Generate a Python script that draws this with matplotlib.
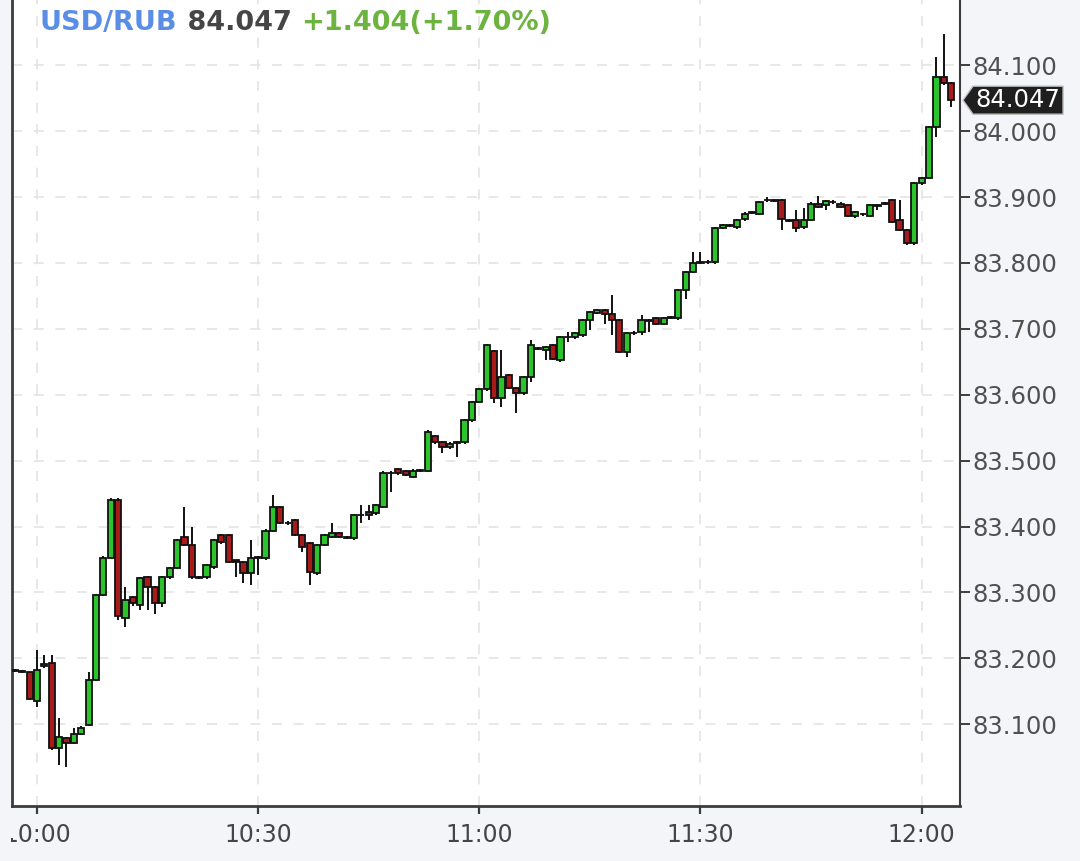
import matplotlib
matplotlib.use("Agg")
import matplotlib.pyplot as plt
from matplotlib.patches import Rectangle, Polygon
import numpy as np

# minutes depuis 10:00, une bougie par minute
minutes = np.arange(-3, 125)

ouvertures = [
    83.183, 83.181, 83.179, 83.136, 83.188, 83.193, 83.064, 83.079, 83.071, 83.086,
    83.099, 83.167, 83.296, 83.353, 83.441, 83.262, 83.293, 83.281, 83.323, 83.308,
    83.284, 83.323, 83.337, 83.384, 83.372, 83.322, 83.323, 83.338, 83.387, 83.387,
    83.349, 83.346, 83.329, 83.353, 83.352, 83.394, 83.429, 83.406, 83.410, 83.387,
    83.375, 83.329, 83.372, 83.384, 83.390, 83.384, 83.382, 83.417, 83.422, 83.420,
    83.429, 83.482, 83.487, 83.484, 83.475, 83.485, 83.485, 83.537, 83.528, 83.520,
    83.527, 83.528, 83.561, 83.589, 83.608, 83.666, 83.595, 83.630, 83.610, 83.602,
    83.627, 83.671, 83.668, 83.675, 83.652, 83.687, 83.687, 83.690, 83.713, 83.724,
    83.728, 83.722, 83.713, 83.665, 83.693, 83.695, 83.713, 83.716, 83.708, 83.718,
    83.716, 83.759, 83.786, 83.801, 83.801, 83.801, 83.853, 83.857, 83.854, 83.866,
    83.877, 83.875, 83.895, 83.895, 83.895, 83.865, 83.865, 83.854, 83.865, 83.890,
    83.888, 83.892, 83.890, 83.888, 83.872, 83.874, 83.872, 83.888, 83.890, 83.895,
    83.865, 83.850, 83.831, 83.921, 83.929, 84.006, 84.082, 84.073,
]
hauts = [
    83.184, 83.182, 83.180, 83.212, 83.205, 83.205, 83.109, 83.080, 83.095, 83.097,
    83.179, 83.298, 83.355, 83.443, 83.443, 83.308, 83.295, 83.324, 83.325, 83.310,
    83.325, 83.339, 83.381, 83.429, 83.399, 83.325, 83.343, 83.381, 83.389, 83.389,
    83.350, 83.348, 83.379, 83.356, 83.396, 83.448, 83.431, 83.408, 83.412, 83.389,
    83.377, 83.374, 83.389, 83.405, 83.392, 83.386, 83.419, 83.432, 83.432, 83.434,
    83.484, 83.484, 83.489, 83.486, 83.487, 83.488, 83.546, 83.539, 83.530, 83.528,
    83.530, 83.563, 83.591, 83.610, 83.677, 83.668, 83.668, 83.632, 83.612, 83.629,
    83.683, 83.673, 83.674, 83.677, 83.689, 83.695, 83.695, 83.715, 83.727, 83.730,
    83.730, 83.751, 83.715, 83.695, 83.696, 83.721, 83.715, 83.718, 83.718, 83.720,
    83.761, 83.788, 83.816, 83.816, 83.804, 83.855, 83.859, 83.859, 83.867, 83.877,
    83.879, 83.894, 83.900, 83.897, 83.897, 83.867, 83.880, 83.883, 83.892, 83.901,
    83.896, 83.895, 83.892, 83.890, 83.879, 83.876, 83.890, 83.890, 83.893, 83.897,
    83.895, 83.852, 83.923, 83.931, 84.008, 84.112, 84.147, 84.075,
]
bas = [
    83.180, 83.178, 83.137, 83.126, 83.186, 83.061, 83.038, 83.035, 83.070, 83.084,
    83.098, 83.166, 83.295, 83.352, 83.258, 83.247, 83.280, 83.273, 83.273, 83.268,
    83.278, 83.321, 83.335, 83.370, 83.321, 83.320, 83.321, 83.336, 83.374, 83.344,
    83.323, 83.314, 83.311, 83.326, 83.350, 83.392, 83.404, 83.403, 83.385, 83.361,
    83.311, 83.326, 83.370, 83.382, 83.382, 83.381, 83.380, 83.406, 83.410, 83.418,
    83.428, 83.452, 83.479, 83.476, 83.473, 83.483, 83.483, 83.526, 83.511, 83.518,
    83.505, 83.526, 83.559, 83.587, 83.606, 83.587, 83.581, 83.608, 83.573, 83.600,
    83.619, 83.668, 83.652, 83.653, 83.650, 83.680, 83.685, 83.688, 83.698, 83.722,
    83.708, 83.690, 83.663, 83.657, 83.691, 83.690, 83.695, 83.706, 83.706, 83.715,
    83.714, 83.746, 83.784, 83.798, 83.799, 83.798, 83.851, 83.854, 83.852, 83.864,
    83.874, 83.873, 83.893, 83.892, 83.850, 83.862, 83.847, 83.852, 83.863, 83.883,
    83.880, 83.890, 83.883, 83.870, 83.868, 83.872, 83.870, 83.880, 83.888, 83.860,
    83.848, 83.827, 83.827, 83.918, 83.927, 83.991, 84.070, 84.036,
]
clotures = [
    83.181, 83.179, 83.139, 83.182, 83.192, 83.064, 83.080, 83.071, 83.086, 83.095,
    83.167, 83.296, 83.353, 83.441, 83.265, 83.288, 83.284, 83.322, 83.308, 83.284,
    83.323, 83.337, 83.379, 83.372, 83.323, 83.324, 83.341, 83.379, 83.376, 83.346,
    83.346, 83.329, 83.353, 83.354, 83.394, 83.429, 83.406, 83.405, 83.387, 83.369,
    83.331, 83.372, 83.387, 83.390, 83.384, 83.383, 83.417, 83.418, 83.417, 83.432,
    83.482, 83.481, 83.481, 83.478, 83.485, 83.486, 83.543, 83.528, 83.520, 83.526,
    83.528, 83.561, 83.589, 83.608, 83.675, 83.595, 83.627, 83.610, 83.602, 83.627,
    83.675, 83.670, 83.672, 83.655, 83.687, 83.688, 83.693, 83.713, 83.725, 83.728,
    83.722, 83.713, 83.665, 83.693, 83.694, 83.713, 83.712, 83.708, 83.716, 83.717,
    83.759, 83.786, 83.800, 83.800, 83.802, 83.853, 83.857, 83.856, 83.865, 83.875,
    83.876, 83.892, 83.895, 83.894, 83.866, 83.864, 83.853, 83.865, 83.890, 83.885,
    83.894, 83.893, 83.885, 83.872, 83.877, 83.875, 83.888, 83.887, 83.891, 83.862,
    83.850, 83.831, 83.921, 83.929, 84.006, 84.082, 84.073, 84.047,
]

positions_x = [0, 30, 60, 90, 120]
etiquettes_x = ["10:00", "10:30", "11:00", "11:30", "12:00"]
niveaux_y = [83.1, 83.2, 83.3, 83.4, 83.5, 83.6, 83.7, 83.8, 83.9, 84.0, 84.1]

paire = "USD/RUB"
dernier = 84.047
variation = "+1.404(+1.70%)"

VERT = "#2cc42c"
ROUGE = "#a81b1b"
FOND = "#f3f5f8"
BORD = "#3c3c3c"


def dessiner_bougies(ax):
    o = np.array(ouvertures)
    c = np.array(clotures)
    couleurs = np.where(c >= o, VERT, ROUGE)
    bas_corps = np.minimum(o, c)
    hauteur = np.maximum(np.abs(c - o), 0.0006)
    ax.vlines(minutes, bas, hauts, color="#111111", lw=1.4, zorder=2)
    ax.bar(minutes, hauteur, bottom=bas_corps, width=0.84, color=couleurs,
           edgecolor="#111111", linewidth=1.3, zorder=3)


def main():
    fig = plt.figure(figsize=(10.8, 8.61), dpi=100, facecolor=FOND)
    ax = fig.add_axes([12 / 1080, 1 - 806 / 861, 948 / 1080, 806 / 861])
    ax.set_facecolor("white")

    dessiner_bougies(ax)

    ax.set_xlim(-3.39, 125.2)
    ax.set_ylim(82.976, 84.199)

    ax.set_xticks(positions_x)
    ax.set_xticklabels(etiquettes_x)
    ax.set_yticks(niveaux_y)
    ax.set_yticklabels([f"{v:.3f}" for v in niveaux_y])
    ax.yaxis.tick_right()
    ax.grid(True, color="#e4e4e4", linestyle=(0, (6, 7)), linewidth=1.2, zorder=0)
    ax.set_axisbelow(True)

    ax.spines["top"].set_visible(False)
    ax.spines["left"].set_linewidth(2)
    ax.spines["bottom"].set_linewidth(2)
    ax.spines["right"].set_linewidth(1.5)
    for s in ("left", "bottom", "right"):
        ax.spines[s].set_color(BORD)

    ax.tick_params(axis="y", direction="out", length=7, width=1.4, color=BORD,
                   labelsize=17.5, labelcolor="#505050", pad=2)
    ax.tick_params(axis="x", direction="out", length=6, width=1.6, color=BORD,
                   labelsize=17, labelcolor="#454545", pad=6)

    # titre multicolore
    t1 = ax.text(28 / 948, 0.9628, paire, transform=ax.transAxes, fontsize=19.5,
                 fontweight="bold", color="#5a8de6", va="baseline", ha="left")
    t2 = ax.annotate(f" {dernier:.3f} ", xy=(1, 0), xycoords=t1, fontsize=19.5,
                     fontweight="bold", color="#454545", va="bottom", ha="left")
    ax.annotate(variation, xy=(1, 0), xycoords=t2, fontsize=19.5,
                fontweight="bold", color="#6cb43f", va="bottom", ha="left")

    # étiquette du dernier cours
    tr = ax.get_yaxis_transform()
    demi = 14 / 659
    sommets = [(1.0032, dernier), (1.0137, dernier + demi), (1.1087, dernier + demi),
               (1.1087, dernier - demi), (1.0137, dernier - demi)]
    ax.add_patch(Polygon(sommets, closed=True, transform=tr, clip_on=False,
                         fc="#1f1f1f", ec="#bdbdbd", lw=1, zorder=5))
    ax.text(1.0612, dernier, f"{dernier:.3f}", transform=tr, color="white",
            fontsize=17.5, va="center", ha="center", zorder=6, clip_on=False)

    # bord gauche masqué comme sur la capture
    fig.add_artist(Rectangle((0, 0), 11 / 1080, 1, transform=fig.transFigure,
                             fc=FOND, ec="none", zorder=10))
    fig.add_artist(Rectangle((0, 1 - 838 / 861), 14.5 / 1080, 28 / 861,
                             transform=fig.transFigure, fc=FOND, ec="none", zorder=10))

    fig.savefig("out.png", dpi=100, facecolor=FOND)


main()
